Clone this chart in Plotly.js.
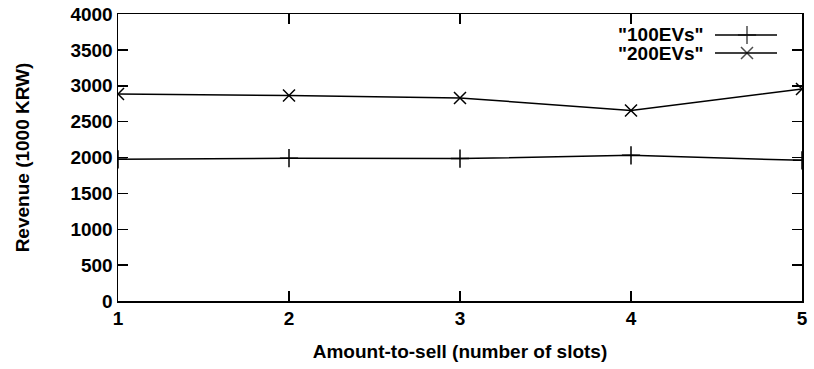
<!DOCTYPE html>
<html>
<head>
<meta charset="utf-8">
<script src="https://cdn.plot.ly/plotly-3.0.1.min.js"></script>
<style>html,body{margin:0;padding:0;background:#fff;}#chart{width:814px;height:369px;}</style>
</head>
<body>
<div id="chart"></div>
<script>
const slots = [1, 2, 3, 4, 5];
const ev100 = [1975, 1990, 1985, 2030, 1960];
const ev200 = [2885, 2865, 2830, 2655, 2955];
const seriesNames = ['"100EVs"', '"200EVs"'];
const yTicks = [0, 500, 1000, 1500, 2000, 2500, 3000, 3500, 4000];

const FONT = 'Liberation Sans, Arial, sans-serif';
const L = 118, R = 802, T = 14, B = 301;
const px = x => (x - L) / (R - L);
const py = y => (B - y) / (B - T);

const lineStyle = {color: '#000', width: 1.5};
const traces = [
  {x: slots, y: ev100, name: seriesNames[0], type: 'scatter', mode: 'lines+markers',
   line: lineStyle, marker: {symbol: 'cross-thin-open', size: 13, line: {color: '#000', width: 1.5}, color: '#000'}},
  {x: slots, y: ev200, name: seriesNames[1], type: 'scatter', mode: 'lines+markers',
   line: lineStyle, marker: {symbol: 'x-thin-open', size: 12, line: {color: '#000', width: 1.5}, color: '#000'}},
  // legend key markers (hidden overlay axes)
  {x: [px(747), px(747)], y: [py(35), py(53)], xaxis: 'x2', yaxis: 'y2', type: 'scatter', mode: 'markers',
   marker: {symbol: ['cross-thin-open', 'x-thin-open'], size: [13, 12], line: {color: '#000', width: 1.5}, color: '#000'},
   hoverinfo: 'skip'}
];

const axisCommon = {
  showline: true, linecolor: '#000', linewidth: 1.5, mirror: 'ticks',
  ticks: 'inside', ticklen: 10, tickwidth: 1.5, tickcolor: '#000',
  showgrid: false, zeroline: false,
  tickfont: {family: FONT, size: 19, color: '#000', weight: 'bold'}
};

const layout = {
  width: 814, height: 369,
  margin: {l: L, r: 814 - R, t: T, b: 369 - B},
  paper_bgcolor: '#fff', plot_bgcolor: '#fff',
  showlegend: false,
  xaxis: Object.assign({}, axisCommon, {
    range: [1, 5], tickvals: slots, ticktext: slots.map(String),
    title: {text: 'Amount-to-sell (number of slots)', standoff: 16,
            font: {family: FONT, size: 19, color: '#000', weight: 'bold'}}
  }),
  yaxis: Object.assign({}, axisCommon, {
    range: [0, 4000], tickvals: yTicks, ticktext: yTicks.map(String),
    title: {text: 'Revenue (1000 KRW)', standoff: 36,
            font: {family: FONT, size: 19, color: '#000', weight: 'bold'}}
  }),
  xaxis2: {overlaying: 'x', range: [0, 1], visible: false, fixedrange: true},
  yaxis2: {overlaying: 'y', range: [0, 1], visible: false, fixedrange: true},
  shapes: [
    {type: 'line', xref: 'paper', yref: 'paper', x0: px(715), x1: px(777), y0: py(35), y1: py(35), line: {color: '#000', width: 1.5}},
    {type: 'line', xref: 'paper', yref: 'paper', x0: px(715), x1: px(777), y0: py(53), y1: py(53), line: {color: '#000', width: 1.5}}
  ],
  annotations: seriesNames.map((n, i) => ({
    text: n, xref: 'paper', yref: 'paper', x: px(706), y: py(i === 0 ? 35 : 53),
    xanchor: 'right', yanchor: 'middle', showarrow: false,
    font: {family: FONT, size: 19, color: '#000', weight: 'bold'}
  }))
};

Plotly.newPlot('chart', traces, layout, {staticPlot: true, displayModeBar: false});
</script>
</body>
</html>
